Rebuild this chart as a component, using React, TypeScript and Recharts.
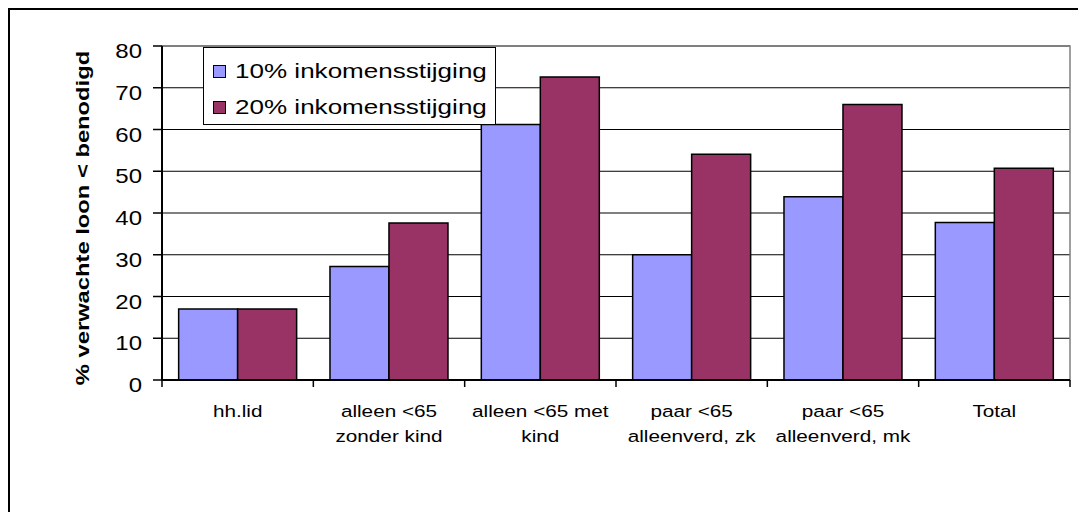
import React from "react";
import { BarChart, Bar, XAxis, YAxis, CartesianGrid, Legend, ReferenceArea, Label } from "recharts";

const FONT = '"Liberation Sans", Arial, Helvetica, sans-serif';

const categories = [
  "hh.lid",
  "alleen <65\nzonder kind",
  "alleen <65 met\nkind",
  "paar <65\nalleenverd, zk",
  "paar <65\nalleenverd, mk",
  "Total",
];
const rise10 = [17, 27.2, 61.2, 30, 43.9, 37.7];
const rise20 = [17, 37.6, 72.6, 54.1, 66, 50.7];
const seriesNames = ["10% inkomensstijging", "20% inkomensstijging"];
const yTicks = [0, 10, 20, 30, 40, 50, 60, 70, 80];
const yLabel = "% verwachte loon < benodigd";

const data = categories.map((name, i) => ({ name, r10: rise10[i], r20: rise20[i] }));

function YTick({ x, y, payload }: any) {
  return (
    <text
      transform={`translate(${x},${y + 12}) scale(1.2,1)`}
      textAnchor="end"
      fontSize={20}
      fontFamily={FONT}
      fill="#000"
    >
      {payload.value}
    </text>
  );
}

// category label plus the tick marks on the band edges (Excel style)
function XTick({ x, y, payload, index }: any) {
  const lines = String(payload.value).split("\n");
  const half = payload.offset || 0;
  const last = index === categories.length - 1;
  return (
    <g transform={`translate(${x},${y})`}>
      <line x1={-half} x2={-half} y1={0} y2={7} stroke="#000" strokeWidth={1.5} />
      {last && <line x1={half} x2={half} y1={0} y2={7} stroke="#000" strokeWidth={1.5} />}
      {lines.map((line, i) => (
        <text
          key={i}
          transform={`translate(0,${37 + i * 25}) scale(1.22,1)`}
          textAnchor="middle"
          fontSize={17}
          fontFamily={FONT}
          fill="#000"
        >
          {line}
        </text>
      ))}
    </g>
  );
}

function LegendBox({ payload }: any) {
  return (
    <div
      style={{
        width: 293,
        height: 78,
        boxSizing: "border-box",
        border: "1.5px solid #000",
        background: "#fff",
        paddingTop: 5,
      }}
    >
      {(payload || []).map((p: any) => (
        <div key={p.value} style={{ display: "flex", alignItems: "center", height: 36 }}>
          <span
            style={{
              width: 11,
              height: 11,
              border: "1px solid #000",
              background: p.color,
              marginLeft: 9,
              flex: "none",
            }}
          />
          <span
            style={{
              display: "inline-block",
              marginLeft: 9,
              fontSize: 21,
              fontFamily: FONT,
              transform: "scaleX(1.24)",
              transformOrigin: "left center",
              whiteSpace: "nowrap",
              lineHeight: "36px",
            }}
          >
            {p.value}
          </span>
        </div>
      ))}
    </div>
  );
}

export default function App() {
  return (
    <div
      style={{
        position: "fixed",
        left: 8,
        top: 8,
        width: 1070,
        height: 504,
        boxSizing: "border-box",
        borderTop: "2px solid #000",
        borderLeft: "2px solid #000",
        background: "#fff",
      }}
    >
      <BarChart
        width={1068}
        height={494}
        data={data}
        margin={{ top: 36, right: 8, left: 0, bottom: 54 }}
        barCategoryGap="11%"
        barGap={0}
      >
        <CartesianGrid vertical={false} stroke="#000" strokeWidth={1} />
        <ReferenceArea y1={0} y2={80} fill="none" stroke="#808080" strokeWidth={1.5} ifOverflow="visible" />
        <XAxis
          dataKey="name"
          height={70}
          interval={0}
          tickLine={false}
          tickSize={0}
          tickMargin={0}
          axisLine={{ stroke: "#000", strokeWidth: 2 }}
          tick={<XTick />}
        />
        <YAxis
          width={152}
          domain={[0, 80]}
          ticks={yTicks}
          interval={0}
          tickSize={9}
          tickMargin={11}
          axisLine={{ stroke: "#000", strokeWidth: 2 }}
          tickLine={{ stroke: "#000", strokeWidth: 1.5 }}
          tick={<YTick />}
        >
          <Label
            content={(props: any) => {
              const vb = props.viewBox || { x: 0, y: 36, width: 152, height: 334 };
              const cx = vb.x + 79;
              const cy = vb.y + vb.height / 2 + 5;
              return (
                <text
                  transform={`translate(${cx},${cy}) rotate(-90) scale(1.25,1)`}
                  textAnchor="middle"
                  fontSize={19}
                  fontWeight="bold"
                  fontFamily={FONT}
                  fill="#000"
                >
                  {yLabel}
                </text>
              );
            }}
          />
        </YAxis>
        <Legend
          layout="horizontal"
          verticalAlign="middle"
          align="center"
          wrapperStyle={{ left: 193, top: 37, width: 293, height: 78 }}
          content={<LegendBox />}
        />
        <Bar dataKey="r10" name={seriesNames[0]} fill="#9999FF" stroke="#000" strokeWidth={1.5} isAnimationActive={false} />
        <Bar dataKey="r20" name={seriesNames[1]} fill="#993366" stroke="#000" strokeWidth={1.5} isAnimationActive={false} />
      </BarChart>
    </div>
  );
}
